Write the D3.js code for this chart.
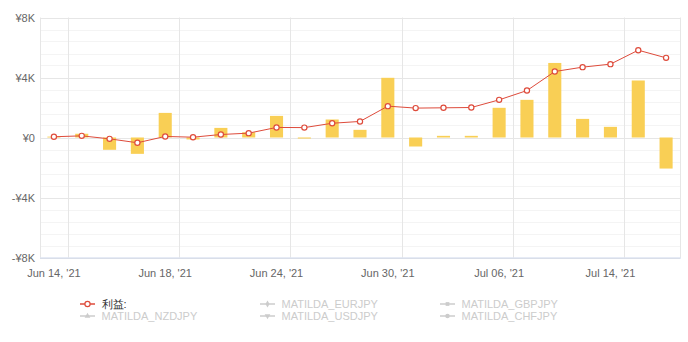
<!DOCTYPE html>
<html><head><meta charset="utf-8">
<script src="https://cdn.jsdelivr.net/npm/d3@7"></script>
<style>body{margin:0;background:#fff;}svg{display:block;font-family:"Liberation Sans",Arial,sans-serif;}</style>
</head><body><svg id="c" width="688" height="342"></svg>
<script>
const categories = ["Jun 14","Jun 15","Jun 16","Jun 17","Jun 18","Jun 21","Jun 22","Jun 23","Jun 24","Jun 25","Jun 28","Jun 29","Jun 30","Jul 01","Jul 02","Jul 05","Jul 06","Jul 07","Jul 08","Jul 12","Jul 14","Jul 15","Jul 16"];
const daily = [60,250,-820,-1090,1640,-130,640,350,1440,-70,1200,510,3980,-600,110,110,1980,2510,4970,1240,710,3800,-2070];
const cumulative = [50,110,-90,-350,70,20,200,290,670,660,950,1070,2090,1960,1980,2000,2510,3130,4400,4690,4890,5820,5310];
const xTickIndex = [0,4,8,12,16,20];
const xTickLabels = ["Jun 14, '21","Jun 18, '21","Jun 24, '21","Jun 30, '21","Jul 06, '21","Jul 14, '21"];
const yTicks = [-8000,-4000,0,4000,8000];
const yTickLabels = ["-¥8K","-¥4K","¥0","¥4K","¥8K"];
const legendItems = [
  {name:"利益:", active:true, sym:"circle"},
  {name:"MATILDA_EURJPY", active:false, sym:"diamond"},
  {name:"MATILDA_GBPJPY", active:false, sym:"square"},
  {name:"MATILDA_NZDJPY", active:false, sym:"triangle"},
  {name:"MATILDA_USDJPY", active:false, sym:"triangledown"},
  {name:"MATILDA_CHFJPY", active:false, sym:"circle"}
];

const svg = d3.select("#c");
const L=40,R=680,T=17.5,B=257.5;
const x = d3.scaleBand().domain(d3.range(categories.length)).range([L,R]).padding(0);
const y = d3.scaleLinear().domain([-8000,8000]).range([B,T]);

// minor grid
const minor = d3.range(-8000,8001,800).filter(v=>!yTicks.includes(v));
svg.append("g").selectAll("line").data(minor).join("line")
  .attr("x1",L).attr("x2",R).attr("y1",d=>Math.round(y(d))+0.5).attr("y2",d=>Math.round(y(d))+0.5)
  .attr("stroke","#f4f4f4").attr("stroke-width",1);
// major grid
svg.append("g").selectAll("line").data(yTicks).join("line")
  .attr("x1",L).attr("x2",R).attr("y1",d=>Math.round(y(d))+0.5).attr("y2",d=>Math.round(y(d))+0.5)
  .attr("stroke","#e6e6e6");
// vertical grid
svg.append("g").selectAll("line").data(xTickIndex).join("line")
  .attr("x1",d=>Math.round(x(d+1))+0.5).attr("x2",d=>Math.round(x(d+1))+0.5)
  .attr("y1",T).attr("y2",B).attr("stroke","#e6e6e6");
// border
svg.append("line").attr("x1",L+0.5).attr("x2",L+0.5).attr("y1",T).attr("y2",B).attr("stroke","#e6e6e6");
svg.append("line").attr("x1",R+0.5).attr("x2",R+0.5).attr("y1",T).attr("y2",B).attr("stroke","#e6e6e6");
svg.append("line").attr("x1",L).attr("x2",R+1).attr("y1",B+0.5).attr("y2",B+0.5).attr("stroke","#ccd6eb");

// y labels
svg.append("g").selectAll("text").data(yTicks).join("text")
  .attr("x",35).attr("y",d=>y(d)+4).attr("text-anchor","end")
  .attr("font-size",11).attr("fill","#666").text((d,i)=>yTickLabels[i]);
// x labels
svg.append("g").selectAll("text").data(xTickIndex).join("text")
  .attr("x",d=>x(d)+x.bandwidth()/2).attr("y",277).attr("text-anchor","middle")
  .attr("font-size",11).attr("fill","#666").text((d,i)=>xTickLabels[i]);

// bars
const bw = x.bandwidth()*0.47;
svg.append("g").selectAll("rect").data(daily).join("rect")
  .attr("x",(d,i)=>x(i)+x.bandwidth()/2-bw/2).attr("width",bw)
  .attr("y",d=>y(Math.max(0,d))).attr("height",d=>Math.abs(y(d)-y(0)))
  .attr("fill","#f9cf55");

// line
const line = d3.line().x((d,i)=>x(i)+x.bandwidth()/2).y(d=>y(d));
svg.append("path").datum(cumulative).attr("d",line).attr("fill","none").attr("stroke","#de4b3b").attr("stroke-width",1);
svg.append("g").selectAll("circle").data(cumulative).join("circle")
  .attr("cx",(d,i)=>x(i)+x.bandwidth()/2).attr("cy",d=>y(d)).attr("r",2.6)
  .attr("fill","#fff").attr("stroke","#de4b3b").attr("stroke-width",1.2);

// legend
const colX=[80,260,440], rowY=[304,316];
const symMap={circle:d3.symbolCircle,diamond:d3.symbolDiamond,square:d3.symbolSquare,triangle:d3.symbolTriangle,triangledown:d3.symbolTriangle};
legendItems.forEach((it,i)=>{
  const cx=colX[i%3], cy=rowY[Math.floor(i/3)];
  const g=svg.append("g");
  const col = it.active ? "#de4b3b" : "#cccccc";
  g.append("line").attr("x1",cx).attr("x2",cx+15).attr("y1",cy).attr("y2",cy).attr("stroke",col).attr("stroke-width",1.5);
  if(it.active){
    g.append("circle").attr("cx",cx+7.5).attr("cy",cy).attr("r",2.6).attr("fill","#fff").attr("stroke",col).attr("stroke-width",1.2);
  } else {
    g.append("path").attr("d",d3.symbol(symMap[it.sym],it.sym==="circle"?16:14)())
      .attr("transform",`translate(${cx+7.5},${cy})`+(it.sym==="triangledown"?" rotate(180)":""))
      .attr("fill",col);
  }
  g.append("text").attr("x",cx+21.5).attr("y",cy+4).attr("font-size",11)
    .attr("fill",it.active?"#333":"#cccccc").text(it.name);
});
</script></body></html>
